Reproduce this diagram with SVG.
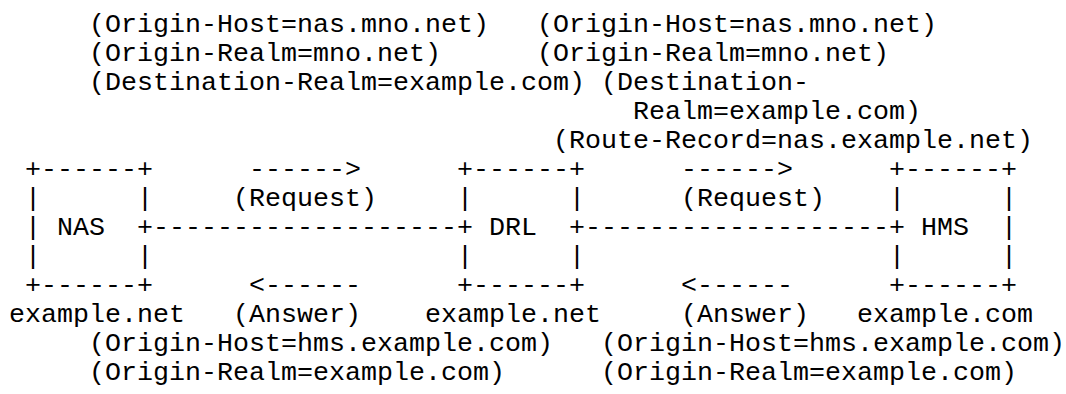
<svg xmlns="http://www.w3.org/2000/svg" width="1066" height="394" viewBox="0 0 1066 394">
<style>
text{font-family:"Liberation Mono","Courier New",monospace;font-size:26.67px;fill:#000;white-space:pre}
</style>
<rect width="1066" height="394" fill="#fff"/>
<g id="request-labels">
<text x="89" y="32">(Origin-Host=nas.mno.net)</text>
<text x="537" y="32">(Origin-Host=nas.mno.net)</text>
<text x="89" y="61">(Origin-Realm=mno.net)</text>
<text x="537" y="61">(Origin-Realm=mno.net)</text>
<text x="89" y="90">(Destination-Realm=example.com)</text>
<text x="601" y="90">(Destination-</text>
<text x="633" y="119">Realm=example.com)</text>
<text x="553" y="148">(Route-Record=nas.example.net)</text>
</g>
<g id="nas">
<text x="25" y="177">+------+</text>
<text x="25" y="206">|</text><text x="137" y="206">|</text>
<text x="25" y="235">|</text><text x="57" y="235">NAS</text>
<text x="25" y="264">|</text><text x="137" y="264">|</text>
<text x="25" y="293">+------+</text>
<text x="9" y="322">example.net</text>
</g>
<g id="drl">
<text x="457" y="177">+------+</text>
<text x="457" y="206">|</text><text x="569" y="206">|</text>
<text x="489" y="235">DRL</text>
<text x="457" y="264">|</text><text x="569" y="264">|</text>
<text x="457" y="293">+------+</text>
<text x="425" y="322">example.net</text>
</g>
<g id="hms">
<text x="889" y="177">+------+</text>
<text x="889" y="206">|</text><text x="1001" y="206">|</text>
<text x="921" y="235">HMS</text><text x="1001" y="235">|</text>
<text x="889" y="264">|</text><text x="1001" y="264">|</text>
<text x="889" y="293">+------+</text>
<text x="857" y="322">example.com</text>
</g>
<g id="connectors">
<text x="249" y="177">------&gt;</text>
<text x="681" y="177">------&gt;</text>
<text x="233" y="206">(Request)</text>
<text x="681" y="206">(Request)</text>
<text x="137" y="235">+-------------------+</text>
<text x="569" y="235">+-------------------+</text>
<text x="249" y="293">&lt;------</text>
<text x="681" y="293">&lt;------</text>
<text x="233" y="322">(Answer)</text>
<text x="681" y="322">(Answer)</text>
</g>
<g id="answer-labels">
<text x="89" y="351">(Origin-Host=hms.example.com)</text>
<text x="601" y="351">(Origin-Host=hms.example.com)</text>
<text x="89" y="380">(Origin-Realm=example.com)</text>
<text x="601" y="380">(Origin-Realm=example.com)</text>
</g>
</svg>
